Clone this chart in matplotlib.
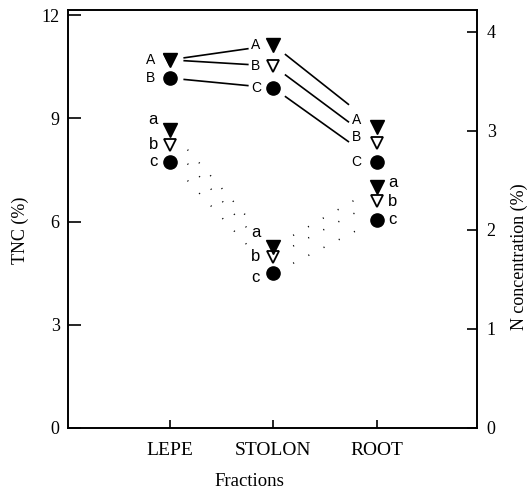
import matplotlib
matplotlib.use("Agg")
import matplotlib.pyplot as plt
import numpy as np

categories = ["LEPE", "STOLON", "ROOT"]
# TNC (%) - left axis
tnc_A = [10.7, 11.13, 8.75]    # filled triangle
tnc_B = [10.7, 10.52, 8.28]    # open triangle
tnc_C = [10.17, 9.88, 7.73]    # filled circle
# N concentration (%) - right axis
n_a = [3.01, 1.83, 2.43]
n_b = [2.86, 1.73, 2.29]
n_c = [2.69, 1.56, 2.10]

serif = "Liberation Serif"
sans = "Liberation Sans"

fig = plt.figure(figsize=(5.29, 4.98), dpi=100)
ax = fig.add_axes([0.1285, 0.1406, 0.7732, 0.8394])
ax2 = ax.twinx()

x = np.arange(1, 4)
ax.set_xlim(0.015, 3.966)
ax.set_ylim(0, 12.15)
ax2.set_ylim(0, 4.22)

def seg(axis, xs, ys, fracs, **kw):
    for i in range(len(xs) - 1):
        f0, f1 = fracs[i]
        x0, x1 = xs[i], xs[i + 1]
        y0, y1 = ys[i], ys[i + 1]
        axis.plot([x0 + f0 * (x1 - x0), x0 + f1 * (x1 - x0)],
                  [y0 + f0 * (y1 - y0), y0 + f1 * (y1 - y0)], **kw)

line_kw = dict(color="black", lw=1.2, solid_capstyle="butt")
for ys in (tnc_A, tnc_B, tnc_C):
    seg(ax, x, ys, [(0.13, 0.76), (0.11, 0.73)], **line_kw)

dot_kw = dict(color="black", lw=1.1, linestyle=(0, (0.7, 10.5)))
for ys in (n_a, n_b, n_c):
    seg(ax2, x, ys, [(0.17, 0.75), (0.19, 0.8)], **dot_kw)

ms = 9.5
for axis, (ya, yb, yc) in ((ax, (tnc_A, tnc_B, tnc_C)), (ax2, (n_a, n_b, n_c))):
    axis.plot(x, yb, linestyle="none", marker="v", ms=ms - 1.5, mfc="white", mec="black", mew=1.3)
    axis.plot(x, ya, linestyle="none", marker="v", ms=ms, color="black")
    axis.plot(x, yc, linestyle="none", marker="o", ms=ms, color="black")

# upper group letters (TNC)
fs_u = 10
ax.text(x[0] - 0.19, tnc_A[0], "A", ha="center", va="center", fontsize=fs_u, family=sans)
ax.text(x[0] - 0.19, tnc_C[0], "B", ha="center", va="center", fontsize=fs_u, family=sans)
for ys, lab, dy in ((tnc_A, "A", 0.2), (tnc_B, "B", 0.17), (tnc_C, "C", 0.0)):
    ax.text(x[1] - 0.17, ys[1], lab, ha="center", va="center", fontsize=fs_u, family=sans)
    ax.text(x[2] - 0.2, ys[2] + dy, lab, ha="center", va="center", fontsize=fs_u, family=sans)

# lower group letters (N)
fs_l = 12
dys = {"a": (0.1, 0.14, 0.05), "b": (0.0, 0.0, 0.0), "c": (0.0, -0.04, 0.0)}
for ys, lab in ((n_a, "a"), (n_b, "b"), (n_c, "c")):
    d = dys[lab]
    ax2.text(x[0] - 0.16, ys[0] + d[0], lab, ha="center", va="center", fontsize=fs_l, family=sans)
    ax2.text(x[1] - 0.17, ys[1] + d[1], lab, ha="center", va="center", fontsize=fs_l, family=sans)
    ax2.text(x[2] + 0.15, ys[2] + d[2], lab, ha="center", va="center", fontsize=fs_l, family=sans)

ax.set_xticks(x)
ax.set_xticklabels(categories, family=serif, fontsize=14)
ax.set_yticks([0, 3, 6, 9, 12])
ax.set_yticklabels(["0", "3", "6", "9", "12"], family=serif, fontsize=13)
ax2.set_yticks([0, 1, 2, 3, 4])
ax2.set_yticklabels(["0", "1", "2", "3", "4"], family=serif, fontsize=13)

ax.tick_params(axis="y", direction="in", length=9, width=1.2, pad=6)
ax.tick_params(axis="x", direction="in", length=6, width=1.2, pad=10)
ax2.tick_params(axis="y", direction="in", length=7.5, width=1.2, pad=7)

for a in (ax, ax2):
    for s in a.spines.values():
        s.set_linewidth(1.2)

ax.set_ylabel("TNC (%)", family=serif, fontsize=13)
ax.yaxis.set_label_coords(-0.095, 0.474)
ax2.set_ylabel("N concentration (%)", family=serif, fontsize=13)
ax2.yaxis.set_label_coords(1.083, 0.41)
ax.set_xlabel("Fractions", family=serif, fontsize=13.5)
ax.xaxis.set_label_coords(0.443, -0.108)

fig.savefig("out.png", dpi=100)
